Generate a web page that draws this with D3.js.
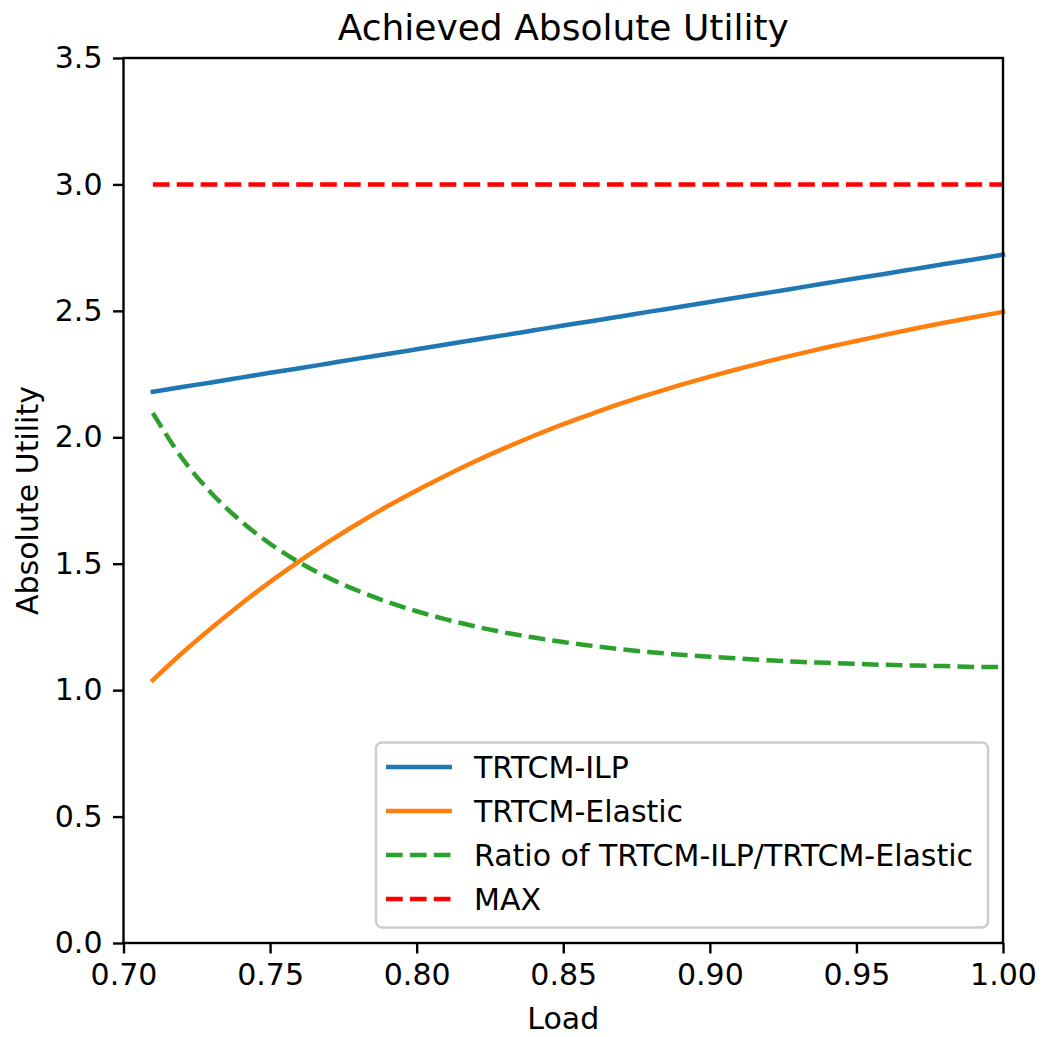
<!DOCTYPE html>
<html>
<head>
<meta charset="utf-8">
<script src="https://cdn.jsdelivr.net/npm/d3@7"></script>
<style>
  body { margin: 0; background: #fff; }
  svg { display: block; font-family: "DejaVu Sans", sans-serif; }
</style>
</head>
<body>
<svg id="chart" width="1043" height="1037"></svg>
<script>
const loads = [0.71,0.72,0.73,0.74,0.75,0.76,0.77,0.78,0.79,0.80,0.81,0.82,0.83,0.84,0.85,0.86,0.87,0.88,0.89,0.90,0.91,0.92,0.93,0.94,0.95,0.96,0.97,0.98,0.99,1.00];
const ilp = [2.180,2.199,2.217,2.236,2.255,2.273,2.292,2.311,2.329,2.348,2.367,2.386,2.404,2.423,2.442,2.460,2.479,2.498,2.516,2.535,2.554,2.572,2.591,2.610,2.629,2.647,2.666,2.685,2.703,2.722];
const elastic = [1.040,1.147,1.246,1.340,1.428,1.510,1.587,1.659,1.727,1.790,1.849,1.905,1.957,2.006,2.052,2.094,2.135,2.172,2.207,2.240,2.271,2.301,2.329,2.356,2.381,2.406,2.430,2.453,2.475,2.496];
const ratio = [2.096,1.917,1.779,1.669,1.579,1.505,1.444,1.393,1.349,1.312,1.280,1.252,1.228,1.208,1.190,1.175,1.161,1.150,1.140,1.132,1.125,1.118,1.112,1.108,1.104,1.100,1.097,1.095,1.092,1.091];
const maxVal = [3,3,3,3,3,3,3,3,3,3,3,3,3,3,3,3,3,3,3,3,3,3,3,3,3,3,3,3,3,3];
const xTicks = [0.70,0.75,0.80,0.85,0.90,0.95,1.00];
const yTicks = [0.0,0.5,1.0,1.5,2.0,2.5,3.0,3.5];
const seriesNames = ["TRTCM-ILP","TRTCM-Elastic","Ratio of TRTCM-ILP/TRTCM-Elastic","MAX"];

const svg = d3.select("#chart");
const L = 123.5, R = 1003, T = 58, B = 943;
const x = d3.scaleLinear().domain([0.70, 1.00]).range([L, R]);
const y = d3.scaleLinear().domain([0, 3.5]).range([B, T]);
const lw = 4.5;
const dash = `${(3.7*lw).toFixed(1)},${(1.6*lw).toFixed(1)}`;

const series = [
  {name: seriesNames[0], vals: ilp, color: "#1f77b4", dash: null},
  {name: seriesNames[1], vals: elastic, color: "#ff7f0e", dash: null},
  {name: seriesNames[2], vals: ratio, color: "#2ca02c", dash: dash},
  {name: seriesNames[3], vals: maxVal, color: "#ff0000", dash: dash}
];

const line = d3.line().curve(d3.curveMonotoneX).x((d,i)=>x(loads[i])).y(d=>y(d));
svg.append("g").selectAll("path").data(series).join("path")
  .attr("d", s => line(s.vals))
  .attr("fill","none")
  .attr("stroke", s => s.color)
  .attr("stroke-width", lw)
  .attr("stroke-dasharray", s => s.dash)
  .attr("stroke-linecap", s => s.dash ? "butt" : "square");

// axes
const fs = 30;
const xAxis = d3.axisBottom(x).tickValues(xTicks).tickFormat(d3.format(".2f")).tickSize(10.5).tickPadding(10.5);
const yAxis = d3.axisLeft(y).tickValues(yTicks).tickFormat(d3.format(".1f")).tickSize(10.5).tickPadding(10.5);
const gx = svg.append("g").attr("transform", `translate(0,${B})`).call(xAxis);
const gy = svg.append("g").attr("transform", `translate(${L},0)`).call(yAxis);
[gx, gy].forEach(g => {
  g.select(".domain").remove();
  g.selectAll(".tick line").attr("stroke","#000").attr("stroke-width",2.4);
  g.selectAll(".tick text").attr("fill","#000").style("font-size", fs+"px").style("font-family","DejaVu Sans");
});

// frame
svg.append("rect").attr("x",L).attr("y",T).attr("width",R-L).attr("height",B-T)
  .attr("fill","none").attr("stroke","#000").attr("stroke-width",2.4);

// title & labels
svg.append("text").attr("x",(L+R)/2).attr("y",40).attr("text-anchor","middle")
  .style("font-size","36px").text("Achieved Absolute Utility");
svg.append("text").attr("x",(L+R)/2).attr("y",1029).attr("text-anchor","middle")
  .style("font-size",fs+"px").text("Load");
svg.append("text").attr("transform",`translate(38,${(T+B)/2}) rotate(-90)`).attr("text-anchor","middle")
  .style("font-size",fs+"px").text("Absolute Utility");

// legend
const lg = svg.append("g");
lg.append("rect").attr("x",376).attr("y",742.5).attr("width",612).attr("height",185)
  .attr("rx",6).attr("fill","#fff").attr("fill-opacity",0.8)
  .attr("stroke","#cccccc").attr("stroke-width",2.4);
const rowY = d3.scaleLinear().domain([0,3]).range([767,899]);
const items = lg.selectAll("g.item").data(series).join("g").attr("class","item")
  .attr("transform",(d,i)=>`translate(0,${rowY(i)})`);
items.append("line").attr("x1",386).attr("x2",452).attr("y1",0).attr("y2",0)
  .attr("stroke",d=>d.color).attr("stroke-width",lw).attr("stroke-dasharray",d=>d.dash);
items.append("text").attr("x",474).attr("y",0).attr("dy","0.36em")
  .style("font-size",fs+"px").text(d=>d.name);
</script>
</body>
</html>
